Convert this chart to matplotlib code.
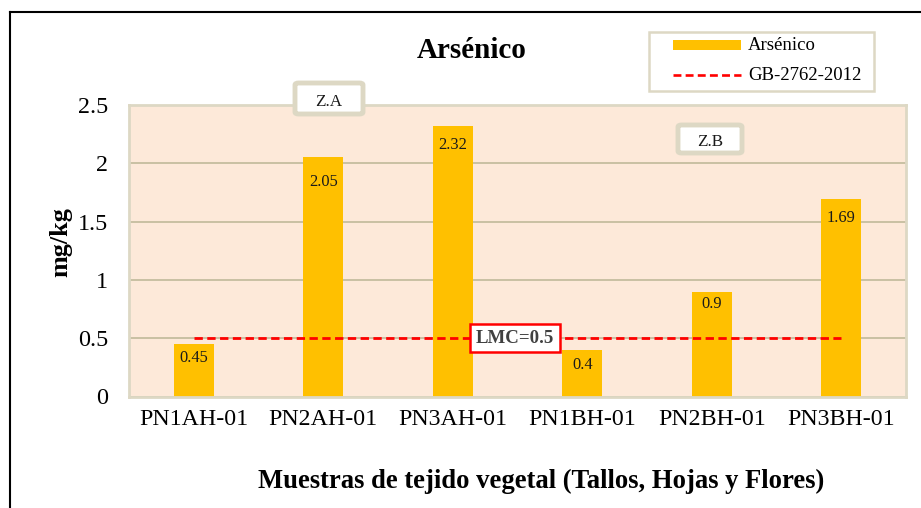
import matplotlib
matplotlib.use("Agg")
import matplotlib.pyplot as plt
from matplotlib.lines import Line2D
from matplotlib.patches import Rectangle, FancyBboxPatch

categories = ["PN1AH-01", "PN2AH-01", "PN3AH-01", "PN1BH-01", "PN2BH-01", "PN3BH-01"]
values = [0.45, 2.05, 2.32, 0.4, 0.9, 1.69]
limit_value = 0.5
yticks = [0, 0.5, 1, 1.5, 2, 2.5]
ytick_labels = ["0", "0.5", "1", "1.5", "2", "2.5"]
legend_labels = ["Arsénico", "GB-2762-2012"]

# styling: distance of each value label below its bar top (pixels)
label_drop_px = [13.5, 25, 19.5, 15, 12.5, 19]

plt.rcParams['font.family'] = ['Liberation Serif', 'DejaVu Serif']

W, H = 921, 508
fig = plt.figure(figsize=(W / 100, H / 100), dpi=100)


def fx(px):
    return px / W


def fy(py):
    return 1 - py / H


ax = fig.add_axes([fx(129), fy(396.5), (906 - 129) / W, (396.5 - 105) / H])

bar_color = "#FFC000"
red = "#FF0000"
tan = "#DDD8C4"
dash = (0, (3, 1.6))
x = list(range(len(categories)))
ax.set_facecolor("#FDE9D9")
ax.set_axisbelow(True)
ax.yaxis.grid(True, color="#C9C0A3", linewidth=1.4)
ax.bar(x, values, width=0.31, color=bar_color, zorder=2)
ax.set_xlim(-0.5, len(categories) - 0.5)
ax.set_ylim(0, 2.5)
ax.set_yticks(yticks)
ax.set_yticklabels(ytick_labels, fontsize=17.4)
ax.set_xticks(x)
ax.set_xticklabels(categories, fontsize=17.2)
ax.tick_params(axis="both", length=0)
ax.tick_params(axis="x", pad=9)
ax.tick_params(axis="y", pad=15)
for s in ax.spines.values():
    s.set_color(tan)
    s.set_linewidth(2)

for xi, v, d in zip(x, values, label_drop_px):
    ax.annotate(f"{v:g}", (xi, v), xytext=(0, -d * 0.72), textcoords="offset points",
                ha="center", va="center", fontsize=11.8, color="#1a1a1a", zorder=3)

ax.plot([x[0], x[-1]], [limit_value, limit_value], color=red, linestyle=dash,
        linewidth=2, zorder=3)

ax.text(2.48, limit_value, "LMC=0.5", ha="center", va="center", fontsize=13.6, fontweight="bold",
        color="#404040", zorder=5,
        bbox=dict(boxstyle="square,pad=0.3", facecolor="white", edgecolor=red, linewidth=1.8))


def label_box(x0, y0, x1, y1, text):
    box = FancyBboxPatch((fx(x0), fy(y1)), fx(x1) - fx(x0), fy(y0) - fy(y1),
                         boxstyle="round,pad=0,rounding_size=0.004",
                         transform=fig.transFigure, facecolor="white", edgecolor=tan,
                         linewidth=3.5, zorder=6)
    fig.add_artist(box)
    fig.text(fx((x0 + x1) / 2), fy((y0 + y1) / 2 + 3.5), text, ha="center", va="center",
             fontsize=12.3, color="#1a1a1a", zorder=7)


label_box(295, 83, 363, 114, "Z.A")
label_box(678, 125, 742, 153, "Z.B")

fig.text(fx(472), fy(50), "Arsénico", ha="center", va="center", fontsize=21, fontweight="bold")
fig.text(fx(61), fy(242), "mg/kg", ha="center", va="center", rotation=90, fontsize=18.8,
         fontweight="bold")
fig.text(fx(541), fy(481), "Muestras de tejido vegetal (Tallos, Hojas y Flores)", ha="center",
         va="center", fontsize=19.2, fontweight="bold")

# legend
fig.add_artist(Rectangle((fx(649), fy(91)), fx(874) - fx(649), fy(32) - fy(91),
                         transform=fig.transFigure, facecolor="white", edgecolor=tan,
                         linewidth=1.8, zorder=6))
fig.add_artist(Line2D([fx(673), fx(741)], [fy(45), fy(45)], color=bar_color, linewidth=7.2,
                      solid_capstyle="butt", transform=fig.transFigure, zorder=7))
fig.add_artist(Line2D([fx(673), fx(741)], [fy(75), fy(75)], color=red, linestyle=dash,
                      linewidth=1.9, transform=fig.transFigure, zorder=7))
fig.text(fx(748), fy(45), legend_labels[0], ha="left", va="center", fontsize=13.5, zorder=7)
fig.text(fx(748), fy(75), legend_labels[1], ha="left", va="center", fontsize=13.5, zorder=7)

# outer border lines (top and left)
fig.add_artist(Line2D([fx(10), fx(10)], [0, fy(12)], color="black", linewidth=1.5,
                      transform=fig.transFigure))
fig.add_artist(Line2D([fx(10), 1], [fy(12), fy(12)], color="black", linewidth=1.5,
                      transform=fig.transFigure))

fig.savefig("out.png", dpi=100)
